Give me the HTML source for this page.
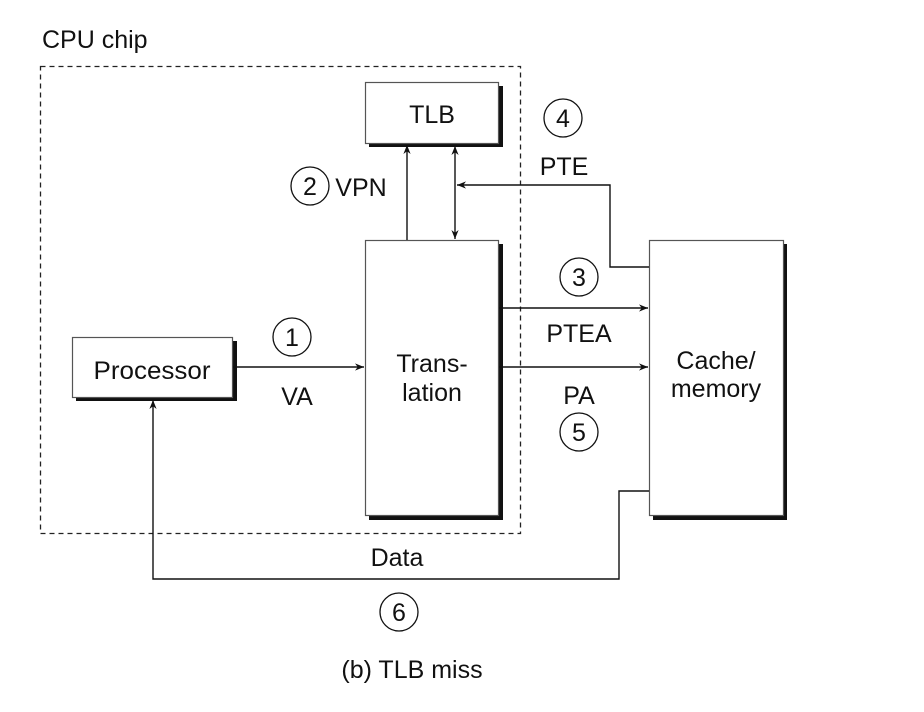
<!DOCTYPE html>
<html><head><meta charset="utf-8"><style>
html,body{margin:0;padding:0;background:#fff;}
svg{display:block;}
text{font-family:"Liberation Sans",Arial,sans-serif;fill:#111;}
</style></head><body>
<svg width="924" height="712" viewBox="0 0 924 712" xmlns="http://www.w3.org/2000/svg">
<defs>
<marker id="a" viewBox="0 0 10 10" refX="10" refY="5" markerWidth="9" markerHeight="9" orient="auto-start-reverse" markerUnits="userSpaceOnUse"><path d="M0,1 L10,5 L0,9 L3,5 Z" fill="#111"/></marker>
</defs>
<text x="42" y="48" font-size="25">CPU chip</text>
<rect x="40.5" y="66.5" width="480" height="467" fill="none" stroke="#222" stroke-width="1.3" stroke-dasharray="5,4"/>
<g fill="#111">
<rect x="369" y="86" width="134" height="61"/>
<rect x="369" y="244" width="134" height="276"/>
<rect x="76" y="341" width="161" height="60"/>
<rect x="653" y="244" width="134" height="276"/>
</g>
<g fill="#fff" stroke="#555" stroke-width="1.2">
<rect x="365.5" y="82.5" width="133" height="61"/>
<rect x="365.5" y="240.5" width="133" height="275"/>
<rect x="72.5" y="337.5" width="160" height="60"/>
<rect x="649.5" y="240.5" width="134" height="275"/>
</g>
<g stroke="#111" stroke-width="1.4" fill="none">
<line x1="407" y1="240" x2="407" y2="145" marker-end="url(#a)"/>
<line x1="455" y1="146" x2="455" y2="239" marker-start="url(#a)" marker-end="url(#a)"/>
<polyline points="649,267 610,267 610,185 457,185" marker-end="url(#a)"/>
<line x1="499" y1="308" x2="648" y2="308" marker-end="url(#a)"/>
<line x1="499" y1="367" x2="648" y2="367" marker-end="url(#a)"/>
<line x1="233" y1="367" x2="364" y2="367" marker-end="url(#a)"/>
<polyline points="649,491 619,491 619,579 153,579 153,400" marker-end="url(#a)"/>
</g>
<g fill="none" stroke="#111" stroke-width="1.3">
<circle cx="563" cy="118" r="19"/>
<circle cx="310" cy="186" r="19"/>
<circle cx="579" cy="277" r="19"/>
<circle cx="579" cy="432" r="19"/>
<circle cx="292" cy="337" r="19"/>
<circle cx="399" cy="612" r="19"/>
</g>
<g font-size="25" text-anchor="middle">
<text x="563" y="127">4</text>
<text x="310" y="195">2</text>
<text x="579" y="286">3</text>
<text x="579" y="441">5</text>
<text x="292" y="346">1</text>
<text x="399" y="621">6</text>
<text x="432" y="123">TLB</text>
<text x="564" y="175">PTE</text>
<text x="361" y="196">VPN</text>
<text x="579" y="342">PTEA</text>
<text x="579" y="404">PA</text>
<text x="297" y="405">VA</text>
<text x="152" y="379" textLength="117" lengthAdjust="spacingAndGlyphs">Processor</text>
<text x="432" y="372">Trans-</text>
<text x="432" y="401">lation</text>
<text x="716" y="369">Cache/</text>
<text x="716" y="397">memory</text>
<text x="397" y="566">Data</text>
<text x="412" y="678">(b) TLB miss</text>
</g>
</svg>
</body></html>
